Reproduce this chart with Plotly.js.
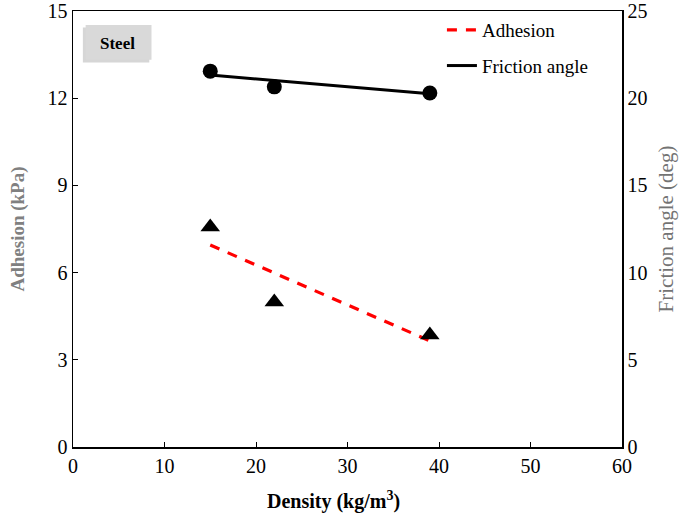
<!DOCTYPE html>
<html><head><meta charset="utf-8">
<script src="https://cdn.plot.ly/plotly-3.0.1.min.js"></script>
<style>html,body{margin:0;padding:0;background:#fff}#chart{width:685px;height:516px}</style>
</head><body><div id="chart"></div>
<script>
// Data
var density = [15, 22, 39];
var adhesion = [7.57, 4.99, 3.85];          // kPa (triangles)
var frictionAngle = [21.55, 20.65, 20.3];   // deg (circles)
var adhesionFitX = [15, 39];
var adhesionFitY = [6.95, 3.65];
var frictionFitX = [15, 39];
var frictionFitY = [21.33, 20.25];

var serif = "Liberation Serif";

var traces = [
  {x: adhesionFitX, y: adhesionFitY, type: 'scatter', mode: 'lines', name: 'Adhesion',
   line: {color: '#ff0000', width: 3.2, dash: '10px,9px'}, legendgroup: 'a', yaxis: 'y'},
  {x: frictionFitX, y: frictionFitY, type: 'scatter', mode: 'lines', name: 'Friction angle',
   line: {color: '#000000', width: 3}, legendgroup: 'b', yaxis: 'y2'},
  {x: density, y: adhesion, type: 'scatter', mode: 'markers', showlegend: false,
   marker: {symbol: 'triangle-up', size: 17, color: '#000'}, yaxis: 'y'},
  {x: density, y: frictionAngle, type: 'scatter', mode: 'markers', showlegend: false,
   marker: {symbol: 'circle', size: 15, color: '#000'}, yaxis: 'y2'}
];

var layout = {
  width: 685, height: 516,
  margin: {l: 73, r: 63, t: 11, b: 69},
  paper_bgcolor: '#fff', plot_bgcolor: '#fff',
  font: {family: serif, size: 19, color: '#000'},
  showlegend: true,
  legend: {x: 0.672, y: 1.0, xanchor: 'left', yanchor: 'top', bgcolor: 'rgba(0,0,0,0)',
           font: {family: serif, size: 19, color: '#000'}, traceorder: 'grouped', tracegroupgap: 8},
  xaxis: {range: [0, 60], dtick: 10, tick0: 0, showgrid: false, zeroline: false,
          showline: true, linecolor: '#000', linewidth: 1.5, mirror: true,
          ticks: 'inside', ticklen: 5, tickcolor: '#000',
          tickfont: {family: serif, size: 20, color: '#000'}},
  yaxis: {range: [0, 15], dtick: 3, tick0: 0, showgrid: false, zeroline: false,
          showline: true, linecolor: '#000', linewidth: 1.5,
          ticks: 'inside', ticklen: 5, tickcolor: '#000',
          tickfont: {family: serif, size: 20, color: '#000'},
          title: {text: '<b>Adhesion (kPa)</b>', font: {family: serif, size: 19, color: '#808080'}, standoff: 18}},
  yaxis2: {range: [0, 25], dtick: 5, tick0: 0, overlaying: 'y', side: 'right', showgrid: false, zeroline: false,
           showline: true, linecolor: '#000', linewidth: 1.5, ticks: '',
           tickfont: {family: serif, size: 20, color: '#000'},
           title: {text: 'Friction angle (deg)', font: {family: serif, size: 21, color: '#737373'}, standoff: 12}},
  shapes: [
    {type: 'rect', xref: 'paper', yref: 'paper', x0: 0.018, x1: 0.139, y0: 0.882, y1: 0.962,
     fillcolor: '#c4c4c4', line: {width: 0}, opacity: 0.7},
    {type: 'rect', xref: 'paper', yref: 'paper', x0: 0.023, x1: 0.143, y0: 0.888, y1: 0.968,
     fillcolor: '#d9d9d9', line: {width: 0}}
  ],
  annotations: [
    {xref: 'paper', yref: 'paper', x: 0.081, y: 0.925, xanchor: 'center', yanchor: 'middle',
     text: '<b>Steel</b>', showarrow: false,
     font: {family: serif, size: 17, color: '#000'}},
    {xref: 'paper', yref: 'paper', x: 0.4736, y: -0.122, xanchor: 'center', yanchor: 'middle',
     text: '<b>Density (kg/m<sup>3</sup>)</b>', showarrow: false,
     font: {family: serif, size: 20, color: '#000'}}
  ]
};

Plotly.newPlot('chart', traces, layout, {displayModeBar: false, staticPlot: true});
</script>
</body></html>
